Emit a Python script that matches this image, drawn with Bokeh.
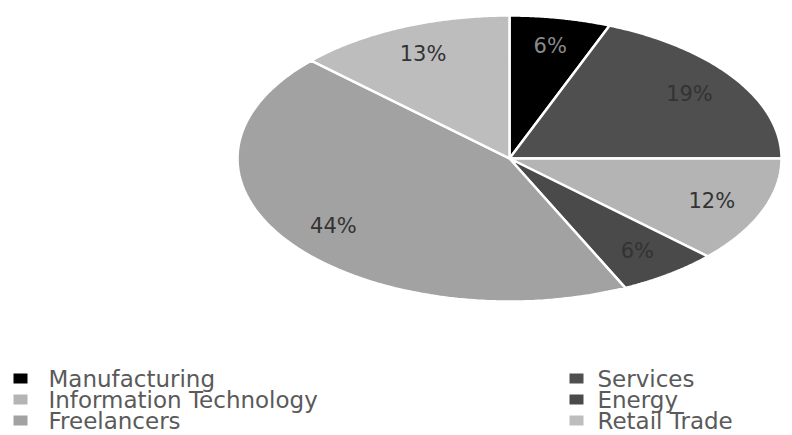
import numpy as np
from bokeh.plotting import figure
from bokeh.models import Range1d
from bokeh.core.properties import value
from bokeh.embed import file_html
from bokeh.resources import INLINE

# ---- data ----
categories = ["Manufacturing", "Services", "Information Technology", "Energy", "Freelancers", "Retail Trade"]
shares = [6, 19, 12, 6, 44, 13]
slice_colors = ["#000000", "#4f4f4f", "#b4b4b4", "#4a4a4a", "#a2a2a2", "#bdbdbd"]
label_colors = ["#8a8a8a", "#333333", "#333333", "#333333", "#333333", "#333333"]

# ---- layout (pixel-like data coordinates) ----
W, H = 792, 435
cx, cy = 509, H - 158     # pie centre
rx, ry = 272, 143         # stretched pie radii
label_frac = 0.8

p = figure(width=W, height=H, output_backend="svg", toolbar_location=None,
           x_range=Range1d(0, W), y_range=Range1d(0, H), min_border=0)
p.axis.visible = False
p.grid.visible = False
p.outline_line_color = None
p.background_fill_color = "white"
p.border_fill_color = "white"

total = float(sum(shares))
fr = np.array(shares) / total
ends = np.cumsum(fr)
starts = ends - fr

xs, ys, lx, ly, labels = [], [], [], [], []
for s, e, v in zip(starts, ends, shares):
    t = np.linspace(s, e, 80) * 2 * np.pi
    xs.append(list(np.concatenate([[cx], cx + rx * np.sin(t)])))
    ys.append(list(np.concatenate([[cy], cy + ry * np.cos(t)])))
    m = (s + e) / 2 * 2 * np.pi
    lx.append(cx + label_frac * rx * np.sin(m))
    ly.append(cy + label_frac * ry * np.cos(m))
    labels.append(f"{v}%")

p.patches(xs=xs, ys=ys, fill_color=slice_colors, line_color="white", line_width=2.5)
p.text(x=lx, y=ly, text=labels, text_color=label_colors, text_font=value("DejaVu Sans"),
       text_font_size="21px", text_align="center", text_baseline="middle")

# ---- legend ----
col_sq_x = [20, 576]
col_tx_x = [48, 597]
row_y = [H - 378, H - 399, H - 420]
leg_sq_x = [col_sq_x[i % 2] for i in range(len(categories))]
leg_tx_x = [col_tx_x[i % 2] for i in range(len(categories))]
leg_y = [row_y[i // 2] for i in range(len(categories))]
p.rect(x=leg_sq_x, y=leg_y, width=14, height=10, width_units="screen", height_units="screen",
       fill_color=slice_colors, line_color=None)
p.text(x=leg_tx_x, y=leg_y, text=categories, text_color="#5a5a5a", text_font=value("DejaVu Sans"),
       text_font_size="23px", text_align="left", text_baseline="middle")

open("out.html", "w").write(file_html(p, INLINE))
